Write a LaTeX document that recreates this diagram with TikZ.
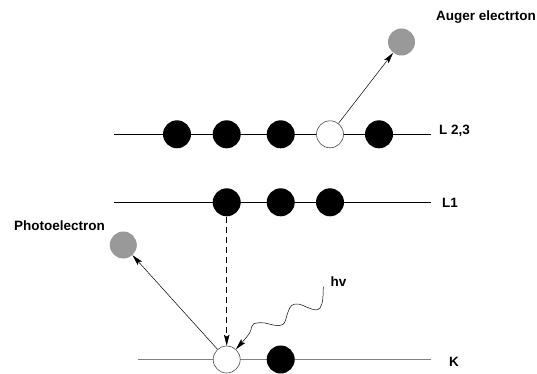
\documentclass[tikz,border=0pt]{standalone}
\usepackage{fontspec}
\setmainfont{Liberation Sans}
\usetikzlibrary{arrows.meta}
\begin{document}
\begin{tikzpicture}[x=1pt,y=-1pt,
  full/.style={circle,fill=black,minimum size=28pt,inner sep=0pt},
  hole/.style={circle,draw=black!70,fill=white,line width=0.6pt,minimum size=27pt,inner sep=0pt},
  emit/.style={circle,fill=black!40,minimum size=27pt,inner sep=0pt},
  lvl/.style={line width=0.6pt},
  lbl/.style={font=\bfseries\fontsize{13.5}{16}\selectfont,inner sep=0pt,anchor=base west},
  arr/.style={line width=0.5pt,-{Stealth[length=11pt,width=5.5pt,inset=2pt]}}]
\useasboundingbox (0,0) rectangle (537,374);
% levels
\coordinate (l23a) at (114,134.3); \coordinate (l23b) at (430.5,134.3);
\coordinate (l1a) at (114,202.3); \coordinate (l1b) at (430.5,202.3);
\coordinate (ka) at (138,359.5); \coordinate (kb) at (430.5,359.5);
\draw[lvl] (l23a) -- (l23b);
\draw[lvl] (l1a) -- (l1b);
\draw[line width=1.2pt,black!50] (ka) -- (kb);
% L2,3 electrons
\node[full] (a1) at (177,134.3) {};
\node[full] (a2) at (226.7,134.3) {};
\node[full] (a3) at (280.7,134.3) {};
\node[hole] (a4) at (330,134.3) {};
\node[full] (a5) at (379,134.3) {};
% L1 electrons
\node[full] (b1) at (226.7,202.3) {};
\node[full] (b2) at (280.7,202.3) {};
\node[full] (b3) at (330,202.3) {};
% K electrons
\node[hole] (k1) at (226.7,359.5) {};
\node[full] (k2) at (280.7,359.5) {};
% emitted
\node[emit] (aug) at (401.5,42) {};
\node[emit] (pho) at (123.3,245) {};
% labels
\node[lbl] (laug) at (436,20.7) {Auger electrton};
\node[lbl] (l23) at (439,135) {L 2,3};
\node[lbl] (l1) at (442,207.3) {L1};
\node[lbl] (lk) at (449,366) {K};
\node[lbl] (lpho) at (14,230.7) {Photoelectron};
\node[lbl] (lhv) at (330.5,286.7) {hv};
% arrows
\draw[arr] (a4) -- (aug);
\draw[arr] (k1) -- (pho);
\draw[arr,dash pattern=on 6pt off 4pt] (b1) -- (k1);
\coordinate (hv0) at (323.3,286.7);
\draw[arr] (hv0) .. controls (323,294) and (323.5,303) .. (320,308)
  .. controls (317,311) and (314,310) .. (311.7,309)
  .. controls (305,307) and (300,303) .. (295,304)
  .. controls (290,305) and (289,309) .. (287,315)
  .. controls (285,322) and (285,325) .. (279,325.5)
  .. controls (272,326) and (266,322) .. (260,322.7)
  .. controls (254,323) and (252,324) .. (251.5,327)
  .. controls (251,331) and (250.5,333) .. (k1);
\end{tikzpicture}
\end{document}
